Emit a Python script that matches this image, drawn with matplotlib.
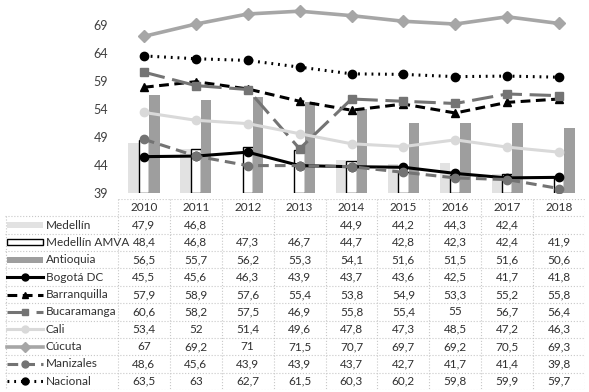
import matplotlib.pyplot as plt
from matplotlib.patches import Rectangle
from matplotlib.lines import Line2D
import numpy as np

plt.rcParams['font.family'] = ['Lato', 'DejaVu Sans']

# datos
years = ['2010', '2011', '2012', '2013', '2014', '2015', '2016', '2017', '2018']
medellin = [47.9, 46.8, None, None, 44.9, 44.2, 44.3, 42.4, None]
medellin_amva = [48.4, 46.8, 47.3, 46.7, 44.7, 42.8, 42.3, 42.4, 41.9]
antioquia = [56.5, 55.7, 56.2, 55.3, 54.1, 51.6, 51.5, 51.6, 50.6]
bogota = [45.5, 45.6, 46.3, 43.9, 43.7, 43.6, 42.5, 41.7, 41.8]
barranquilla = [57.9, 58.9, 57.6, 55.4, 53.8, 54.9, 53.3, 55.2, 55.8]
bucaramanga = [60.6, 58.2, 57.5, 46.9, 55.8, 55.4, 55, 56.7, 56.4]
cali = [53.4, 52, 51.4, 49.6, 47.8, 47.3, 48.5, 47.2, 46.3]
cucuta = [67, 69.2, 71, 71.5, 70.7, 69.7, 69.2, 70.5, 69.3]
manizales = [48.6, 45.6, 43.9, 43.9, 43.7, 42.7, 41.7, 41.4, 39.8]
nacional = [63.5, 63, 62.7, 61.5, 60.3, 60.2, 59.8, 59.9, 59.7]

bars = [
    ('Medellín', medellin, dict(facecolor='#e2e2e2', edgecolor='none')),
    ('Medellín AMVA', medellin_amva, dict(facecolor='white', edgecolor='black', linewidth=1)),
    ('Antioquia', antioquia, dict(facecolor='#9e9e9e', edgecolor='none')),
]
lines = [
    ('Bogotá DC', bogota, dict(color='black', ls='-', marker='o', lw=2.2, ms=6)),
    ('Barranquilla', barranquilla, dict(color='black', ls=(0, (3.2, 1.8)), marker='^', lw=2.2, ms=6)),
    ('Bucaramanga', bucaramanga, dict(color='#747474', ls=(0, (7, 2.5)), marker='s', lw=2.2, ms=6)),
    ('Cali', cali, dict(color='#d9d9d9', ls='-', marker='o', lw=2.2, ms=6)),
    ('Cúcuta', cucuta, dict(color='#a6a6a6', ls='-', marker='D', lw=2.6, ms=6)),
    ('Manizales', manizales, dict(color='#737373', ls=(0, (3.5, 2)), marker='o', lw=2.2, ms=6)),
    ('Nacional', nacional, dict(color='black', ls=(0, (0.6, 1.6)), marker='o', lw=2.2, ms=6)),
]

W, H = 589, 392
fig = plt.figure(figsize=(W / 100, H / 100), dpi=100)

x = np.arange(len(years))
bw = 0.2

ax = fig.add_axes([118 / W, (H - 193) / H, (585 - 118) / W, 193 / H])
for i, (name, vals, st) in enumerate(bars):
    v = np.array([np.nan if a is None else a for a in vals])
    ax.bar(x + (i - 1) * bw, v - 39, bottom=39, width=bw, zorder=1, **st)
for name, vals, st in lines:
    ax.plot(x, vals, zorder=3, **st)

ax.set_xlim(-0.5, len(years) - 0.5)
ax.set_ylim(39, 73.5)
ax.set_yticks(np.arange(39, 70, 5))
ax.set_xticks([])
ax.tick_params(axis='y', length=0, pad=7, labelsize=9, labelcolor='#404040')
for s in ax.spines.values():
    s.set_visible(False)

# tabla de datos
left_u = -0.5 - 113 / 51.9
nrows = 1 + len(bars) + len(lines)
tx = fig.add_axes([5 / W, 2 / H, 580 / W, 191 / H])
tx.set_xlim(left_u, len(years) - 0.5)
tx.set_ylim(nrows, 0)
tx.axis('off')

gc = '#c8c8c8'
tx.plot([-0.5, len(years) - 0.5], [0, 0], color=gc, lw=0.8, ls=':')
for r in range(1, nrows + 1):
    tx.plot([left_u, len(years) - 0.5], [r, r], color=gc, lw=0.8, ls=':')
for k in range(len(years) + 1):
    tx.plot([k - 0.5, k - 0.5], [0, nrows], color=gc, lw=0.8, ls=':')
tx.plot([left_u + 0.01, left_u + 0.01], [1, nrows], color=gc, lw=0.8, ls=':')

tc = '#303030'
fs = 8.5
for j, yr in enumerate(years):
    tx.text(j, 0.5, yr, ha='center', va='center', fontsize=fs, color=tc)

def fmt(v):
    if v is None:
        return ''
    return f'{v:g}'.replace('.', ',')

k0 = left_u + 2 / 51.9
k1 = left_u + 38 / 51.9
txt_x = left_u + 41 / 51.9
rows = [(n, v, st, 'bar') for n, v, st in bars] + [(n, v, st, 'line') for n, v, st in lines]
for r, (name, vals, st, kind) in enumerate(rows, start=1):
    yc = r + 0.5
    if kind == 'bar':
        tx.add_patch(Rectangle((k0, yc - 0.17), k1 - k0, 0.34, **st))
    else:
        tx.add_line(Line2D([k0, k1], [yc, yc], color=st['color'], ls=st['ls'], lw=st['lw']))
        tx.add_line(Line2D([(k0 + k1) / 2], [yc], color=st['color'], marker=st['marker'], ms=5, ls='none'))
    tx.text(txt_x, yc, name, ha='left', va='center', fontsize=fs, color=tc)
    for j, v in enumerate(vals):
        tx.text(j, yc, fmt(v), ha='center', va='center', fontsize=fs, color=tc)

fig.savefig('out.png', dpi=100)
